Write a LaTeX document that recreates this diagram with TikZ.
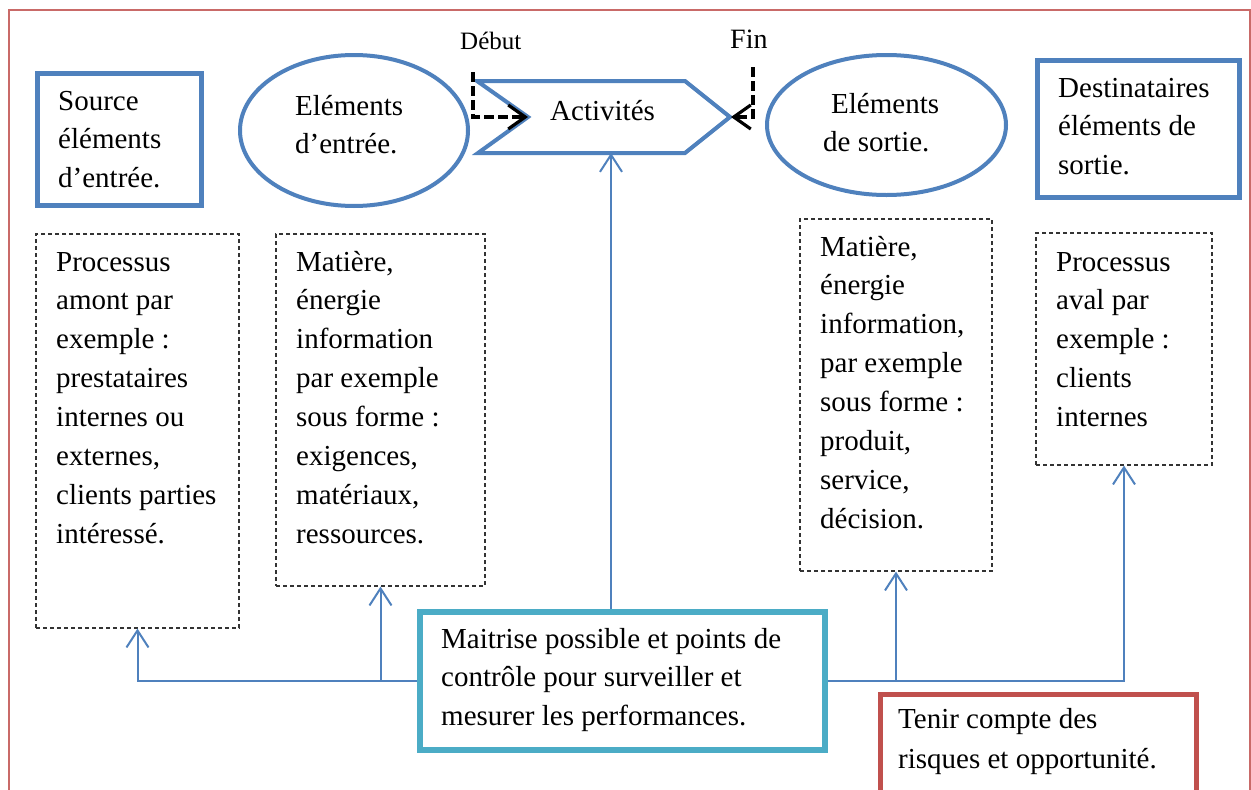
\documentclass[tikz,border=0pt]{standalone}
\usepackage{fontspec}
\setmainfont{Liberation Serif}
\usetikzlibrary{arrows.meta,shapes.geometric}
\definecolor{ublue}{HTML}{4F81BD}
\definecolor{ucyan}{HTML}{4BACC6}
\definecolor{ured}{HTML}{C0504D}
\definecolor{dgray}{HTML}{333333}
\newcommand\lns[2]{\parbox[t]{#1}{\raggedright #2}}
\begin{document}
\begin{tikzpicture}[x=1pt,y=-1pt,
  txt/.style={anchor=base west,inner sep=0pt,font=\fontsize{29}{38.9}\selectfont},
  sbox/.style={draw=ublue,line width=5pt,inner sep=0pt},
  ell/.style={ellipse,draw=ublue,line width=4pt,inner sep=0pt},
  dbox/.style={draw=dgray,line width=1.2pt,dash pattern=on 4pt off 3pt,inner sep=0pt},
  actshape/.style={draw=ublue,line width=4pt,line join=miter},
  conn/.style={draw=ublue,line width=2pt,-{Straight Barb[length=17pt,width=22pt]}},
  dasharr/.style={draw=black,line width=3.2pt,dash pattern=on 10pt off 4pt,-{Straight Barb[length=17pt,width=24pt]}}]
\useasboundingbox (0,0) rectangle (1251,790);
\clip (0,0) rectangle (1251,790);
\fill[white] (0,0) rectangle (1251,790);
\draw[ured!85,line width=1.3pt] (9,10) rectangle (1250,830);

% top row
\node[sbox,minimum width=164pt,minimum height=132pt] (src) at (119.5,139.5) {};
\node[txt] (srct) at (58,110) {\lns{150pt}{Source\\éléments\\d’entrée.}};

\node[ell,minimum width=228pt,minimum height=151pt] (ein) at (354,130.5) {};
\node[txt] (eint) at (295,115) {\lns{200pt}{Eléments\\d’entrée.}};

\draw[actshape] (477,81) -- (685,81) -- (730,117) -- (685,153) -- (478,153) -- (528,117) -- cycle;
\node[txt] (actt) at (550,120) {Activités};
\coordinate (actl) at (528,117);
\coordinate (actr) at (731,117);
\coordinate (actb) at (611,153);

\node[txt,font=\fontsize{25}{30}\selectfont] (deb) at (460,49) {Début};
\node[txt,font=\fontsize{28}{30}\selectfont] (fin) at (730,48) {Fin};
\coordinate (debs) at (473,72);
\coordinate (fins) at (753,67);
\draw[dasharr] (debs) |- (actl);
\draw[dasharr] (fins) |- (actr);

\node[ell,minimum width=239pt,minimum height=140pt] (eout) at (886.5,125) {};
\node[txt] (eoutt) at (831,113) {\lns{200pt}{Eléments\\\hspace*{-8pt}de sortie.}};

\node[sbox,minimum width=202pt,minimum height=137pt] (dst) at (1138.5,129) {};
\node[txt] (dstt) at (1058,97) {\lns{200pt}{Destinataires\\éléments de\\sortie.}};

% dashed boxes
\node[dbox,minimum width=203pt,minimum height=394pt] (b1) at (137.5,431) {};
\node[txt] (b1t) at (56,271) {\lns{200pt}{Processus\\amont par\\exemple :\\prestataires\\internes ou\\externes,\\clients parties\\intéressé.}};

\node[dbox,minimum width=209pt,minimum height=352pt] (b2) at (380.5,410) {};
\node[txt] (b2t) at (296,271) {\lns{200pt}{Matière,\\énergie\\information\\par exemple\\sous forme :\\exigences,\\matériaux,\\ressources.}};

\node[dbox,minimum width=192pt,minimum height=352pt] (b3) at (896,395) {};
\node[txt] (b3t) at (820,256) {\lns{200pt}{Matière,\\énergie\\information,\\par exemple\\sous forme :\\produit,\\service,\\décision.}};

\node[dbox,minimum width=176pt,minimum height=232pt] (b4) at (1124,349) {};
\node[txt] (b4t) at (1056,271) {\lns{200pt}{Processus\\aval par\\exemple :\\clients\\internes}};

% bottom boxes
\node[draw=ucyan,line width=6pt,inner sep=0pt,minimum width=405pt,minimum height=138pt] (m) at (622.5,681) {};
\node[txt] (mt) at (441,648) {\lns{400pt}{Maitrise possible et points de\\contrôle pour surveiller et\\mesurer les performances.}};

\node[draw=ured,line width=5pt,inner sep=0pt,minimum width=316pt,minimum height=130pt,anchor=north west] (risk) at (878,692) {};
\node[txt,font=\fontsize{29}{40}\selectfont] (riskt) at (898,728) {\lns{320pt}{Tenir compte des\\risques et opportunité.}};

% connectors
\draw[conn] (m.west) -| (b1.south);
\draw[conn] (m.west -| b2.south) -- (b2.south);
\draw[conn] (m.east) -| (b4.south);
\draw[conn] (m.east -| b3.south) -- (b3.south);
\draw[conn] (m.north -| actb) -- (actb);
\end{tikzpicture}
\end{document}
